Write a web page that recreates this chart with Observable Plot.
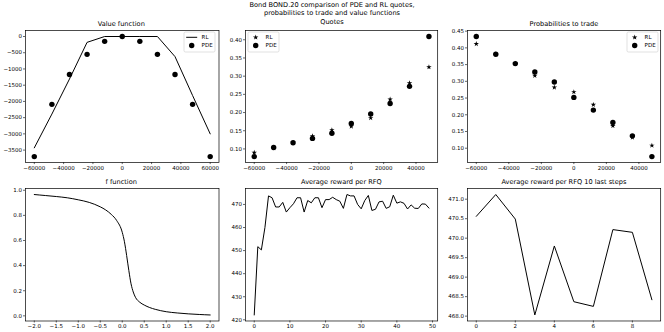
<!DOCTYPE html>
<html><head><meta charset="utf-8">
<script src="https://cdn.jsdelivr.net/npm/d3@7"></script>
<script src="https://cdn.jsdelivr.net/npm/@observablehq/plot@0.6"></script>
<style>
body{margin:0;background:#fff;}
#fig{position:relative;width:664px;height:332px;overflow:hidden;font-family:"DejaVu Sans",sans-serif;color:#000;background:#fff}
.t{position:absolute;text-align:center;font-size:6.6px;line-height:8px;white-space:nowrap}
.p{position:absolute}
</style></head><body><div id="fig"></div>
<script>
// ---- data ----
const suptitle = ["Bond BOND.20 comparison of PDE and RL quotes,", "probabilities to trade and value functions", "Quotes"];
const titles = ["Value function", "", "Probabilities to trade", "f function", "Average reward per RFQ", "Average reward per RFQ 10 last steps"];

const vfX = [-60000,-48000,-36000,-24000,-12000,0,12000,24000,36000,48000,60000];
const vfRL = [-3430,-2390,-1310,-180,0,0,0,0,-620,-1820,-3000];
const vfPDE = [-3700,-2090,-1170,-550,-150,0,-150,-550,-1170,-2090,-3700];

const qX = [-60000,-48000,-36000,-24000,-12000,0,12000,24000,36000,48000];
const qRL = [0.090,0.103,0.117,0.135,0.152,0.162,0.185,0.236,0.281,0.325];
const qPDE = [0.079,0.104,0.117,0.129,0.143,0.170,0.196,0.225,0.272,0.409];

const pX = qX;
const pRL = [0.412,0.381,0.353,0.317,0.282,0.268,0.230,0.167,0.132,0.108];
const pPDE = [0.434,0.381,0.353,0.328,0.298,0.252,0.214,0.177,0.137,0.075];

const fX = [-2,-1.75,-1.5,-1.25,-1,-0.75,-0.5,-0.375,-0.25,-0.125,0,0.05,0.1,0.15,0.2,0.25,0.3,0.4,0.5,0.625,0.75,1,1.25,1.5,1.75,2];
const fY = [0.966,0.958,0.950,0.940,0.924,0.903,0.868,0.843,0.808,0.758,0.665,0.59,0.48,0.36,0.255,0.19,0.148,0.108,0.086,0.066,0.052,0.033,0.023,0.016,0.011,0.007];

const rew = [422.1,451.7,450.3,460.0,473.7,472.9,468.9,468.9,470.9,466.7,
             468.6,470.3,472.9,472.9,466.7,471.7,470.7,472.9,472.9,468.6,
             472.1,472.1,473.1,472.1,471.4,468.3,474.3,473.7,473.7,470.0,
             468.1,471.7,473.9,467.4,467.9,471.1,471.4,468.3,469.0,474.0,
             470.56,471.12,470.49,468.03,469.8,468.37,468.25,470.22,470.15,468.42];
const last10 = rew.slice(-10);

const tickVF_X = [-60000,-40000,-20000,0,20000,40000,60000];
const tickVF_Y = [0,-500,-1000,-1500,-2000,-2500,-3000,-3500];
const tickQ_X = [-60000,-40000,-20000,0,20000,40000];
const tickQ_Y = [0.10,0.15,0.20,0.25,0.30,0.35,0.40];
const tickP_Y = [0.10,0.15,0.20,0.25,0.30,0.35,0.40,0.45];
const tickF_X = [-2,-1.5,-1,-0.5,0,0.5,1,1.5,2];
const tickF_Y = [0,0.2,0.4,0.6,0.8,1.0];
const tickR_X = [0,10,20,30,40,50];
const tickR_Y = [420,430,440,450,460,470];
const tickL_X = [0,2,4,6,8];
const tickL_Y = [468,468.5,469,469.5,470,470.5,471];

// ---- layout ----
const fig = document.getElementById("fig");
const cols = [[24.5,218],[245.3,437.5],[467.3,660.5]];
const rows = [[29.7,161.8],[187.7,320.2]];

function pad(ext){const r=ext[1]-ext[0];return [ext[0]-0.05*r, ext[1]+0.05*r];}

function addTitle(text, L, R, T){
  if(!text) return;
  const d=document.createElement("div");d.className="t";
  d.style.left=L+"px";d.style.width=(R-L)+"px";d.style.top=(T-10)+"px";d.textContent=text;fig.appendChild(d);
}

function addPanel(ci, ri, title, x, y, marks){
  const [L,R]=cols[ci],[T,B]=rows[ri];
  const mL=30,mR=6,mT=4,mB=14;
  const ax={tickSize:2,tickPadding:1.5,label:null,strokeWidth:0.6};
  const plot=Plot.plot({
    width:(R-L)+mL+mR,height:(B-T)+mT+mB,
    marginLeft:mL,marginRight:mR,marginTop:mT,marginBottom:mB,
    style:{fontFamily:"DejaVu Sans",fontSize:"5.5px",color:"#000",background:"transparent",overflow:"visible"},
    x:{domain:x.domain,nice:false,zero:false},
    y:{domain:y.domain,nice:false,zero:false},
    marks:[
      Plot.axisX({...ax,ticks:x.ticks,tickFormat:x.fmt}),
      Plot.axisY({...ax,ticks:y.ticks,tickFormat:y.fmt}),
      ...marks,
      Plot.frame({stroke:"#000",strokeWidth:0.7})
    ]
  });
  plot.classList.add("p");
  plot.style.left=(L-mL)+"px";plot.style.top=(T-mT)+"px";
  fig.appendChild(plot);
  addTitle(title,L,R,T);
}

const starR=1.7, dotR=2.7;
function legend(bx, by, items){
  const w=31,h=20;
  const ns="http://www.w3.org/2000/svg";
  const svg=document.createElementNS(ns,"svg");
  svg.setAttribute("width",w+2);svg.setAttribute("height",h+2);
  svg.style.position="absolute";svg.style.left=(bx-1)+"px";svg.style.top=(by-1)+"px";
  let s=`<rect x="1" y="1" width="${w}" height="${h}" rx="1.5" fill="#fff" fill-opacity="0.8" stroke="#ccc" stroke-width="0.6"/>`;
  items.forEach((it,i)=>{
    const cy=1+5.3+i*8.2, cx=1+7.7;
    if(it.kind==="line") s+=`<line x1="${cx-5.5}" x2="${cx+5.5}" y1="${cy}" y2="${cy}" stroke="#000" stroke-width="1"/>`;
    if(it.kind==="dot") s+=`<circle cx="${cx}" cy="${cy}" r="${dotR}" fill="#000"/>`;
    if(it.kind==="star") s+=`<path transform="translate(${cx},${cy})" d="${d3.symbol(d3.symbolStar, Math.PI*starR*starR)()}" fill="#000"/>`;
    s+=`<text x="${1+17.6}" y="${cy}" dy="0.35em" font-family="DejaVu Sans" font-size="5.5px">${it.label}</text>`;
  });
  svg.innerHTML=s;fig.appendChild(svg);
}

// suptitle
const st=document.createElement("div");st.className="t";
st.style.left="0px";st.style.width="664px";st.style.top="1px";st.style.lineHeight="8.4px";
st.innerHTML=suptitle.join("<br>");fig.appendChild(st);

const fInt=d3.format("d");
const vfData=vfX.map((x,i)=>({x,rl:vfRL[i],pde:vfPDE[i]}));
addPanel(0,0,titles[0],
  {domain:pad(d3.extent(vfX)),ticks:tickVF_X,fmt:fInt},
  {domain:pad(d3.extent([...vfRL,...vfPDE])),ticks:tickVF_Y,fmt:fInt},
  [Plot.line(vfData,{x:"x",y:"rl",stroke:"#000",strokeWidth:1}),
   Plot.dot(vfData,{x:"x",y:"pde",r:dotR,fill:"#000",stroke:"none"})]);
legend(cols[0][1]-2.75-31, rows[0][0]+2.75, [{kind:"line",label:"RL"},{kind:"dot",label:"PDE"}]);

const qData=qX.map((x,i)=>({x,rl:qRL[i],pde:qPDE[i]}));
addPanel(1,0,titles[1],
  {domain:pad(d3.extent(qX)),ticks:tickQ_X,fmt:fInt},
  {domain:pad(d3.extent([...qRL,...qPDE])),ticks:tickQ_Y,fmt:d3.format(".2f")},
  [Plot.dot(qData,{x:"x",y:"rl",symbol:"star",r:starR,fill:"#000",stroke:"none"}),
   Plot.dot(qData,{x:"x",y:"pde",r:dotR,fill:"#000",stroke:"none"})]);
legend(cols[1][0]+2.75, rows[0][0]+2.75, [{kind:"star",label:"RL"},{kind:"dot",label:"PDE"}]);

const pData=pX.map((x,i)=>({x,rl:pRL[i],pde:pPDE[i]}));
addPanel(2,0,titles[2],
  {domain:pad(d3.extent(pX)),ticks:tickQ_X,fmt:fInt},
  {domain:pad(d3.extent([...pRL,...pPDE])),ticks:tickP_Y,fmt:d3.format(".2f")},
  [Plot.dot(pData,{x:"x",y:"rl",symbol:"star",r:starR,fill:"#000",stroke:"none"}),
   Plot.dot(pData,{x:"x",y:"pde",r:dotR,fill:"#000",stroke:"none"})]);
legend(cols[2][1]-2.75-31, rows[0][0]+2.75, [{kind:"star",label:"RL"},{kind:"dot",label:"PDE"}]);

const fData=fX.map((x,i)=>({x,y:fY[i]}));
addPanel(0,1,titles[3],
  {domain:pad(d3.extent(fX)),ticks:tickF_X,fmt:d3.format(".1f")},
  {domain:pad(d3.extent(fY)),ticks:tickF_Y,fmt:d3.format(".1f")},
  [Plot.line(fData,{x:"x",y:"y",stroke:"#000",strokeWidth:1,curve:"monotone-x"})]);

const rData=rew.map((y,i)=>({x:i,y}));
addPanel(1,1,titles[4],
  {domain:pad([0,rew.length-1]),ticks:tickR_X,fmt:fInt},
  {domain:pad(d3.extent(rew)),ticks:tickR_Y,fmt:fInt},
  [Plot.line(rData,{x:"x",y:"y",stroke:"#000",strokeWidth:1})]);

const lData=last10.map((y,i)=>({x:i,y}));
addPanel(2,1,titles[5],
  {domain:pad([0,last10.length-1]),ticks:tickL_X,fmt:fInt},
  {domain:pad(d3.extent(last10)),ticks:tickL_Y,fmt:d3.format(".1f")},
  [Plot.line(lData,{x:"x",y:"y",stroke:"#000",strokeWidth:1})]);
</script></body></html>
